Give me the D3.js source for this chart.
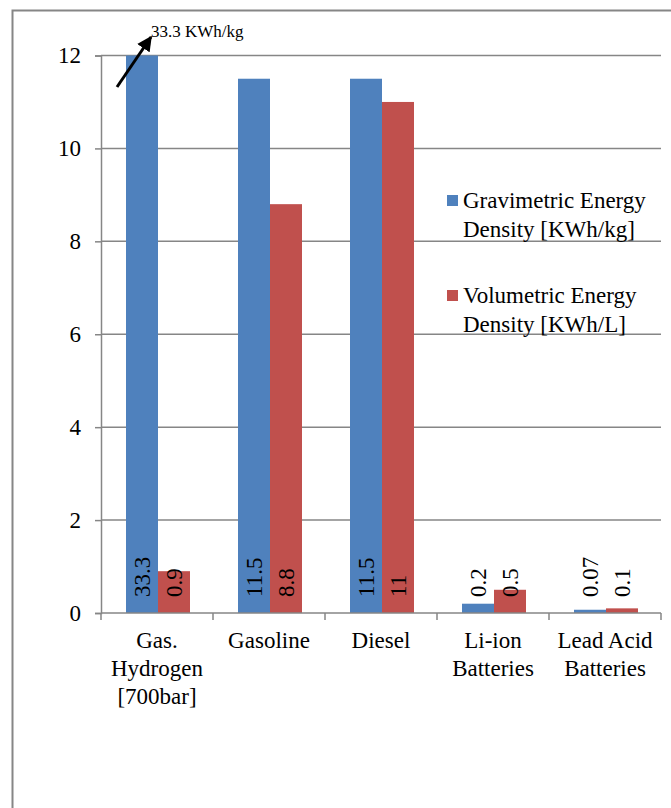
<!DOCTYPE html>
<html>
<head>
<meta charset="utf-8">
<script src="https://cdn.jsdelivr.net/npm/d3@7"></script>
<style>
  body { margin: 0; background: #fff; }
  svg text { font-family: "Liberation Serif", "Times New Roman", serif; fill: #000; }
</style>
</head>
<body>
<script>
var w = 671;
var h = 808;

// data
var categories = [["Gas.", "Hydrogen", "[700bar]"], ["Gasoline"], ["Diesel"], ["Li-ion", "Batteries"], ["Lead Acid", "Batteries"]];
var gravimetric = [33.3, 11.5, 11.5, 0.2, 0.07];
var volumetric = [0.9, 8.8, 11, 0.5, 0.1];
var gravLabels = ["33.3", "11.5", "11.5", "0.2", "0.07"];
var volLabels = ["0.9", "8.8", "11", "0.5", "0.1"];
var seriesNames = [["Gravimetric Energy", "Density [KWh/kg]"], ["Volumetric Energy", "Density [KWh/L]"]];
var colors = ["#4F81BD", "#C0504D"];
var yTicks = [0, 2, 4, 6, 8, 10, 12];

var svg = d3.select("body")
            .append("svg")
              .attr("width", w)
              .attr("height", h)
              .attr("font-family", "Liberation Serif");

// outer frame (top + left edges visible)
svg.append("path")
  .attr("d", "M12.5,808 L12.5,10.5 L671,10.5")
  .attr("fill", "none")
  .attr("stroke", "#868686")
  .attr("stroke-width", 2);

var plotLeft = 101, plotRight = 661, plotTop = 55.5, plotBottom = 613;

var x = d3.scaleBand()
  .domain(d3.range(categories.length))
  .range([plotLeft, plotRight]);

var x1 = d3.scaleBand()
  .domain([0, 1])
  .range([25, 89]);

var y = d3.scaleLinear()
  .domain([0, 12])
  .range([plotBottom, plotTop])
  .clamp(true);

//gridlines
svg.append("g")
  .selectAll("line")
  .data(yTicks.slice(1))
  .enter()
  .append("line")
  .attr("x1", plotLeft)
  .attr("x2", plotRight)
  .attr("y1", function(d) { return y(d); })
  .attr("y2", function(d) { return y(d); })
  .attr("stroke", "#868686")
  .attr("stroke-width", 1.5);

//bars
var groups = svg.append("g")
  .selectAll("g")
  .data(categories)
  .enter()
  .append("g")
  .attr("transform", function(d, i) { return "translate(" + x(i) + ",0)"; });

[gravimetric, volumetric].forEach(function(series, s) {
  groups.append("rect")
    .attr("x", x1(s))
    .attr("width", x1.bandwidth())
    .attr("y", function(d, i) { return y(series[i]); })
    .attr("height", function(d, i) { return plotBottom - y(series[i]); })
    .attr("fill", colors[s]);
});

//y axis
var yAxis = svg.append("g")
  .attr("transform", "translate(" + plotLeft + ",0)")
  .call(d3.axisLeft(y).tickValues(yTicks).tickSize(6).tickPadding(14).tickFormat(d3.format("d")));
yAxis.select(".domain").attr("stroke", "#868686").attr("stroke-width", 1.5);
yAxis.selectAll(".tick line").attr("stroke", "#868686").attr("stroke-width", 1.5);
yAxis.selectAll("text")
  .style("font-family", "Liberation Serif")
  .style("font-size", "23px")
  .attr("fill", "#000");

//x axis
svg.append("line")
  .attr("x1", plotLeft).attr("x2", plotRight)
  .attr("y1", plotBottom).attr("y2", plotBottom)
  .attr("stroke", "#868686").attr("stroke-width", 1.5);

svg.append("g")
  .selectAll("line")
  .data(d3.range(categories.length + 1))
  .enter()
  .append("line")
  .attr("x1", function(d) { return plotLeft + d * x.bandwidth(); })
  .attr("x2", function(d) { return plotLeft + d * x.bandwidth(); })
  .attr("y1", plotBottom)
  .attr("y2", plotBottom + 7)
  .attr("stroke", "#868686")
  .attr("stroke-width", 1.5);

svg.append("g")
  .selectAll("text")
  .data(categories)
  .enter()
  .append("text")
  .attr("text-anchor", "middle")
  .style("font-size", "23px")
  .attr("x", function(d, i) { return x(i) + x.bandwidth() / 2; })
  .attr("y", 648)
  .each(function(d) {
    var t = d3.select(this);
    d.forEach(function(line, k) {
      t.append("tspan")
        .attr("x", t.attr("x"))
        .attr("dy", k === 0 ? 0 : 28)
        .text(line);
    });
  });

//data labels, rotated
[gravLabels, volLabels].forEach(function(labels, s) {
  groups.append("text")
    .attr("transform", function() { return "translate(" + (x1(s) + x1.bandwidth() / 2) + ",597) rotate(-90)"; })
    .attr("dy", "0.35em")
    .style("font-size", "23px")
    .text(function(d, i) { return labels[i]; });
});

//legend
var legend = svg.append("g")
  .selectAll("g")
  .data(seriesNames)
  .enter()
  .append("g")
  .attr("transform", function(d, i) { return "translate(447," + (195 + i * 95) + ")"; });

legend.append("rect")
  .attr("width", 11)
  .attr("height", 11)
  .attr("fill", function(d, i) { return colors[i]; });

legend.append("text")
  .style("font-size", "23px")
  .attr("x", 16)
  .attr("y", 13)
  .each(function(d) {
    var t = d3.select(this);
    d.forEach(function(line, k) {
      t.append("tspan")
        .attr("x", 16)
        .attr("dy", k === 0 ? 0 : 29)
        .text(line);
    });
  });

//annotation arrow for the clipped hydrogen bar
svg.append("defs").append("marker")
  .attr("id", "arrow")
  .attr("viewBox", "0 0 10 10")
  .attr("refX", 9)
  .attr("refY", 5)
  .attr("markerWidth", 5)
  .attr("markerHeight", 5)
  .attr("orient", "auto")
  .append("path")
  .attr("d", "M0,0 L10,5 L0,10 z")
  .attr("fill", "#000");

svg.append("line")
  .attr("x1", 117).attr("y1", 87)
  .attr("x2", 151).attr("y2", 37)
  .attr("stroke", "#000")
  .attr("stroke-width", 3)
  .attr("marker-end", "url(#arrow)");

svg.append("text")
  .attr("x", 151)
  .attr("y", 37)
  .style("font-size", "17px")
  .text(gravLabels[0] + " KWh/kg");
</script>
</body>
</html>
